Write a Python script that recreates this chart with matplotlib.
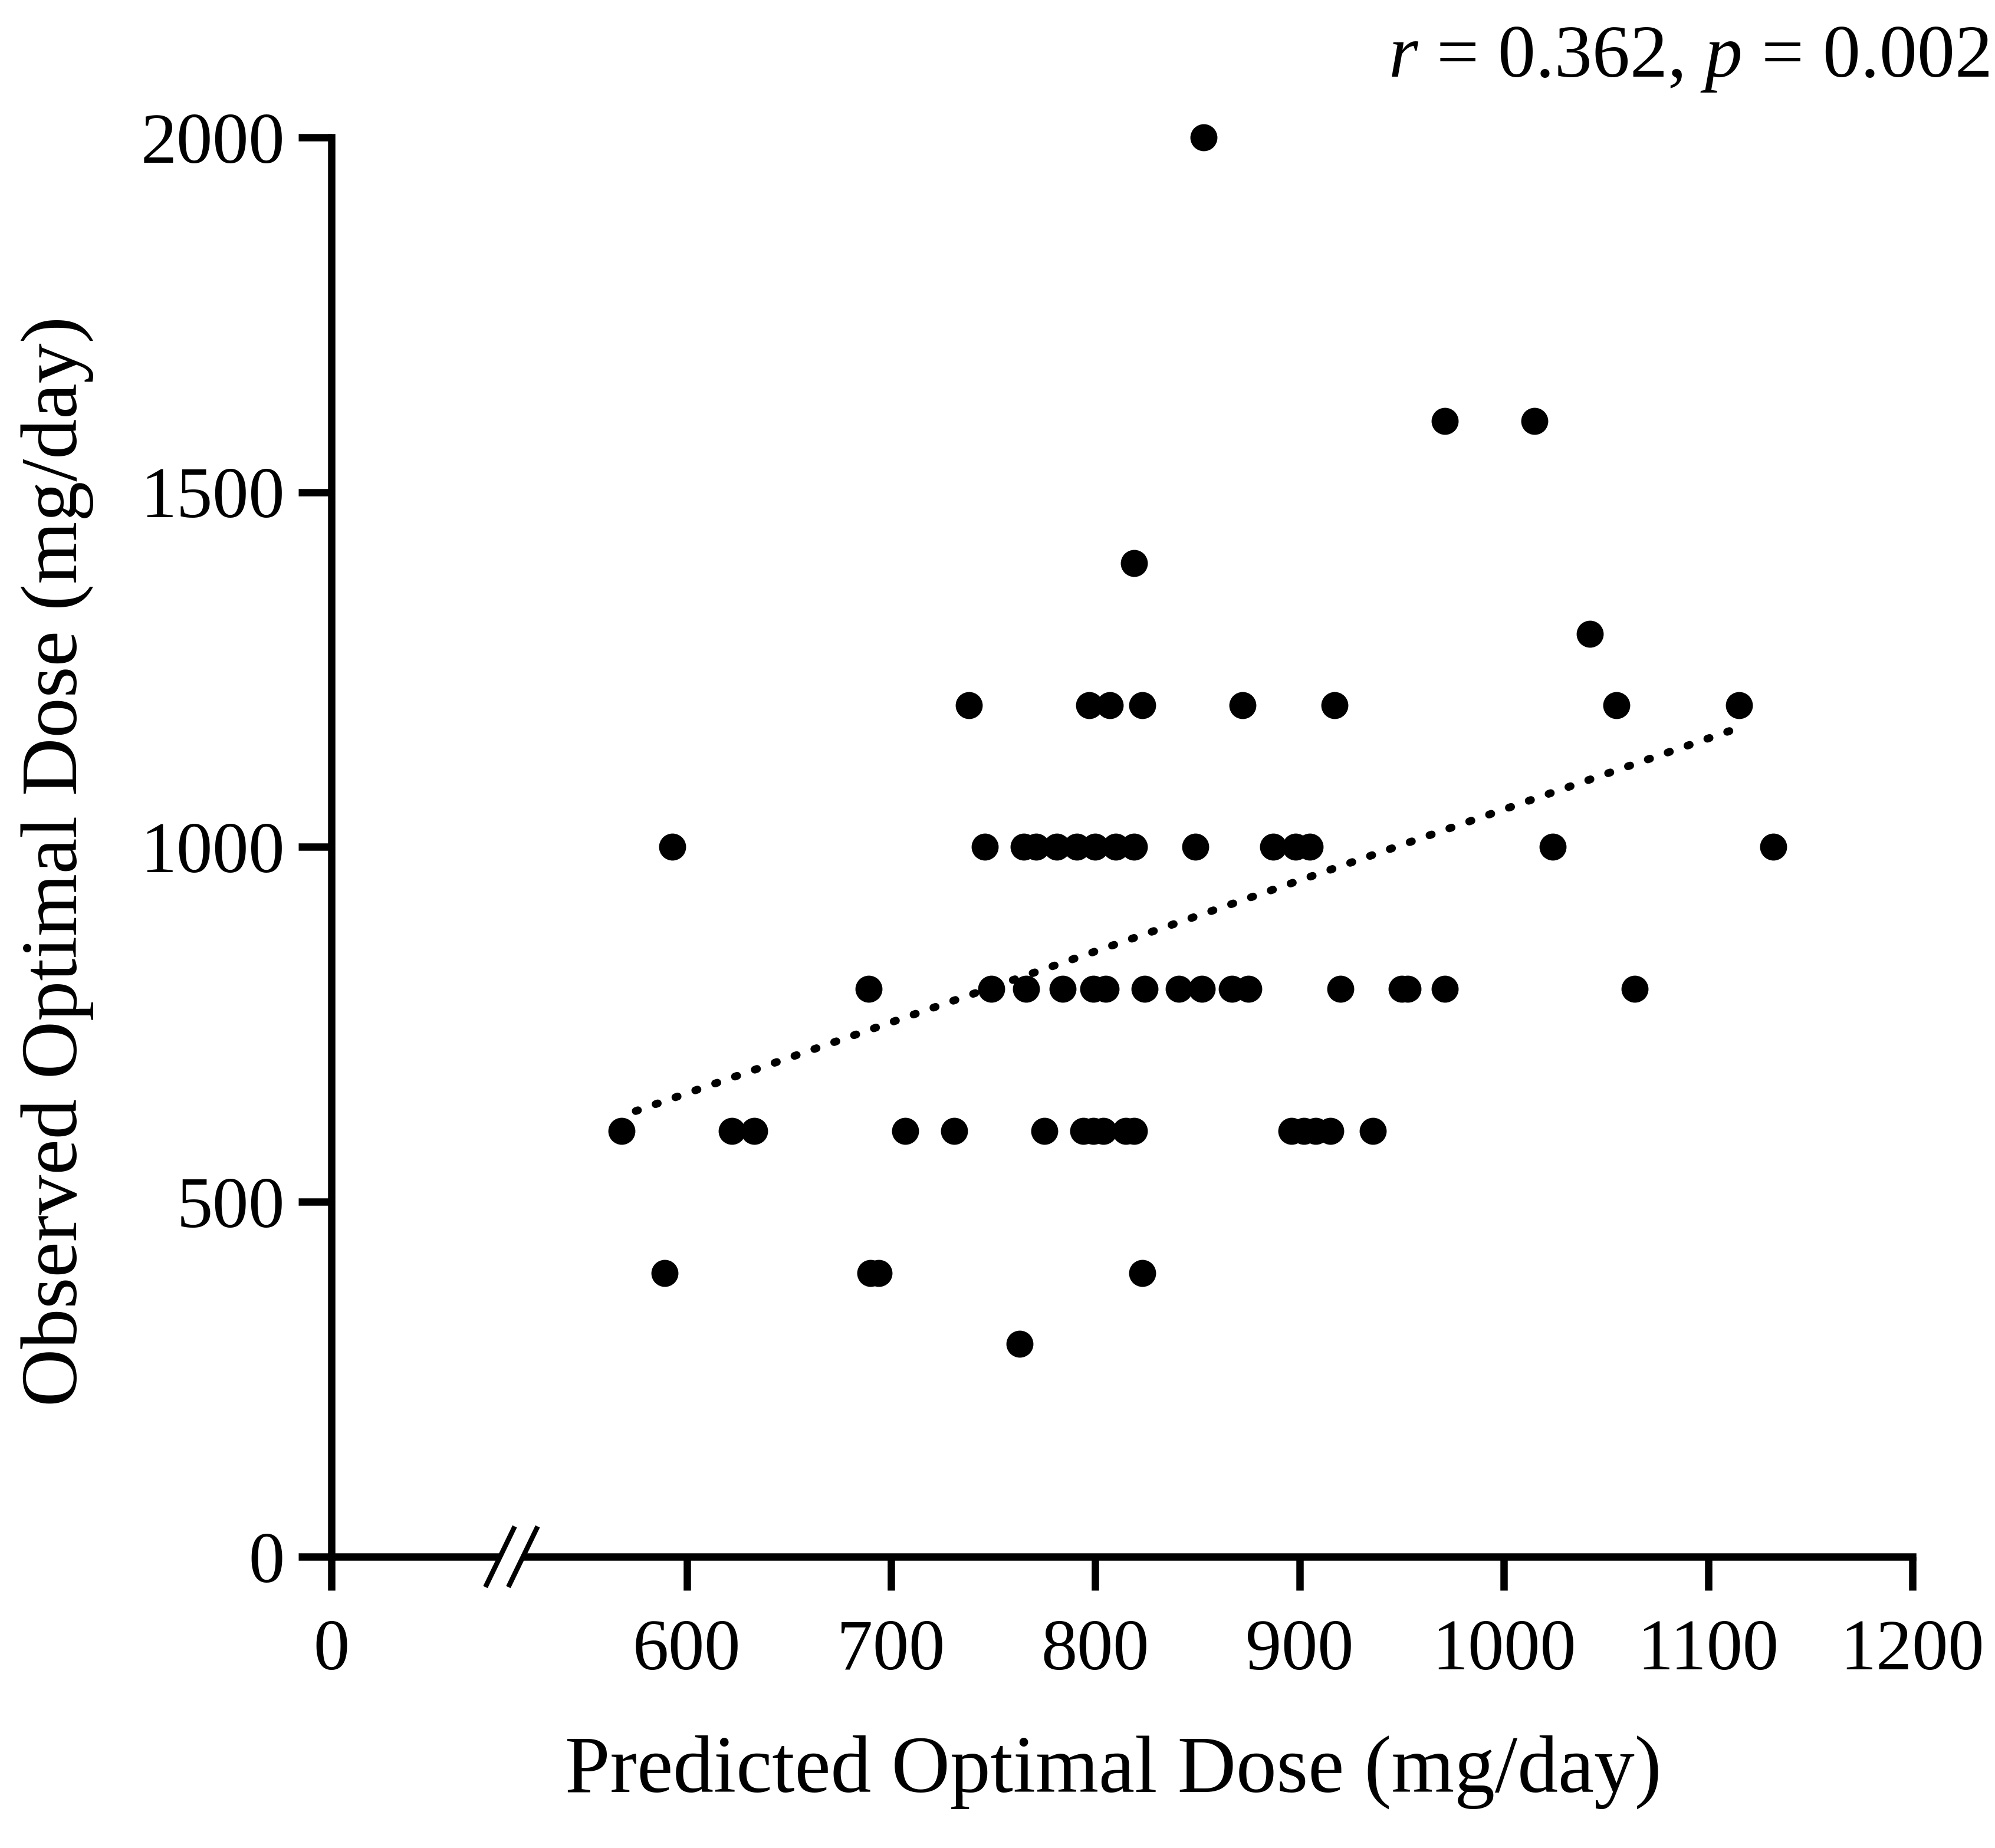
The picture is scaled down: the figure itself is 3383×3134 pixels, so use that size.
import numpy as np
import matplotlib
matplotlib.use("Agg")
import matplotlib.pyplot as plt
from matplotlib.patches import Polygon
from matplotlib.lines import Line2D

# ---------------- data ----------------
obs_2000 = [853]
obs_1600 = [971, 1015]
obs_1400 = [819]
obs_1300 = [1042]
obs_1200 = [738, 797, 807, 823, 872, 917, 1055, 1115]
obs_1000 = [593, 746, 765, 771, 781, 791, 800, 810, 819, 849, 887, 898, 905, 1024, 1132]
obs_800 = [689, 749, 766, 784, 799, 805, 824, 841, 852, 867, 875, 920, 950, 953, 971, 1064]
obs_600 = [568, 622, 633, 707, 731, 775, 794, 799, 804, 815, 819, 896, 902, 908, 915, 936]
obs_400 = [589, 690, 694, 823]
obs_300 = [763]

groups = {2000: obs_2000, 1600: obs_1600, 1400: obs_1400, 1300: obs_1300,
          1200: obs_1200, 1000: obs_1000, 800: obs_800, 600: obs_600,
          400: obs_400, 300: obs_300}
predicted = [x for v, xs in groups.items() for x in xs]
observed = [v for v, xs in groups.items() for _ in xs]

trend_x = [575, 1118]
trend_y = [628, 1171]

x_ticks = [0, 600, 700, 800, 900, 1000, 1100, 1200]
y_ticks = [0, 500, 1000, 1500, 2000]
annotation = r"$r$ = 0.362, $p$ = 0.002"
xlabel = "Predicted Optimal Dose (mg/day)"
ylabel = "Observed Optimal Dose (mg/day)"

# ---------------- style ----------------
plt.rcParams['font.family'] = ['Liberation Serif', 'DejaVu Serif']
plt.rcParams['mathtext.fontset'] = 'custom'
plt.rcParams['mathtext.rm'] = 'Liberation Serif'
plt.rcParams['mathtext.it'] = 'Liberation Serif:italic'

BREAK_AT = 500
K = 0.148  # compression of the 0..500 segment (axis break)


def fwd(x):
    x = np.asarray(x, dtype=float)
    return np.where(x >= BREAK_AT, x, BREAK_AT - (BREAK_AT - x) * K)


def inv(y):
    y = np.asarray(y, dtype=float)
    return np.where(y >= BREAK_AT, y, BREAK_AT - (BREAK_AT - y) / K)


fig = plt.figure(figsize=(33.83, 31.34), dpi=100)
ax = fig.add_axes([0.1661, 0.1576, 0.9586 - 0.1661, 0.9257 - 0.1576])
ax.set_xscale('function', functions=(fwd, inv))
ax.set_xlim(0, 1200)
ax.set_ylim(0, 2000)

ax.plot(predicted, observed, 'o', color='black', ms=32, mec='black', clip_on=False, zorder=3)
ax.plot(trend_x, trend_y, color='black', lw=9.5, linestyle=(0, (0.3, 2.4)),
        dash_capstyle='round', zorder=2)

for s in ['top', 'right']:
    ax.spines[s].set_visible(False)
for s in ['left', 'bottom']:
    ax.spines[s].set_linewidth(9)
    ax.spines[s].set_capstyle('projecting')

ax.set_xticks(x_ticks)
ax.set_xticklabels([str(t) for t in x_ticks])
ax.set_yticks(y_ticks)
ax.set_yticklabels([str(t) for t in y_ticks])
ax.minorticks_off()
ax.tick_params(axis='x', direction='out', length=41, width=9, pad=35, labelsize=88)
ax.tick_params(axis='y', direction='out', length=40, width=9, pad=17, labelsize=88)

# axis break marks
bx = [0.1067, 0.1212]
dx, dy = 0.0086, 0.0158
gap = Polygon([[bx[0] - dx, -dy], [bx[1] - dx, -dy], [bx[1] + dx, dy], [bx[0] + dx, dy]],
              closed=True, transform=ax.transAxes, facecolor='white', edgecolor='none',
              clip_on=False, zorder=5)
ax.add_patch(gap)
for b in bx:
    ax.add_line(Line2D([b - dx, b + dx], [-dy - 0.004, dy + 0.004], transform=ax.transAxes,
                       color='black', lw=6, clip_on=False, zorder=6))

fig.text(0.558, 0.041, xlabel, ha='center', va='center', fontsize=99)
fig.text(0.0287, 0.534, ylabel, ha='center', va='center', rotation=90, fontsize=98)
fig.text(0.997, 0.9585, annotation, ha='right', va='baseline', fontsize=92)

fig.savefig('out.png', dpi=100, facecolor='white')
